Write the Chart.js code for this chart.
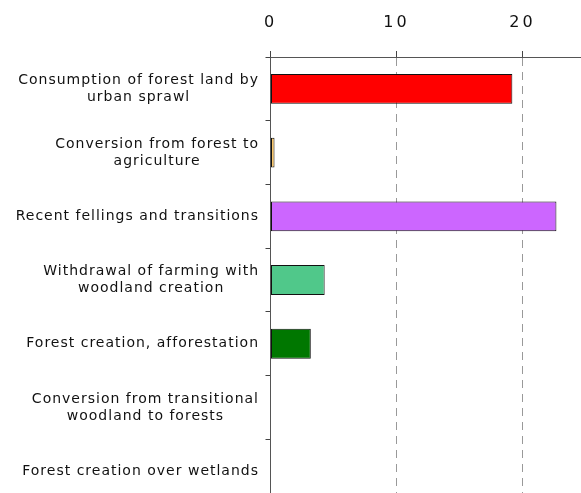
<!DOCTYPE html>
<html>
<head>
<meta charset="utf-8">
<script src="https://cdn.jsdelivr.net/npm/chart.js@4"></script>
<style>
  html, body { margin: 0; padding: 0; background: #fff; overflow: hidden; }
  .wrap { width: 581px; height: 527px; position: relative; }
</style>
</head>
<body>
<div class="wrap"><canvas id="chart"></canvas></div>
<script>
const categories = [
  ['Consumption of forest land by', 'urban sprawl'],
  ['Conversion from forest to', 'agriculture'],
  ['Recent fellings and transitions'],
  ['Withdrawal of farming with', 'woodland creation'],
  ['Forest creation, afforestation'],
  ['Conversion from transitional', 'woodland to forests'],
  ['Forest creation over wetlands']
]
const values = [19.2, 0.32, 22.7, 4.3, 3.2, 0, 0]
const barColors = ['#ff0000', '#f9c66a', '#cc66ff', '#50c88a', '#007700', '#999999', '#999999']
const xTicks = [0, 10, 20]

// category labels: right-aligned blocks, lines centred inside the block
const labelFont = '14px "DejaVu Sans"'
const lineH = 17
const blockLabels = {
  id: 'blockLabels',
  afterDraw(chart) {
    const c = chart.ctx
    const scale = chart.scales.y
    c.save()
    c.font = labelFont
    c.letterSpacing = '1px'
    c.fillStyle = '#111'
    c.textAlign = 'center'
    c.textBaseline = 'middle'
    const right = scale.right - 12
    categories.forEach((lines, i) => {
      const y = scale.getPixelForTick(i)
      const w = Math.max(...lines.map(l => c.measureText(l).width))
      const cx = right - w / 2
      const top = y - (lines.length - 1) * lineH / 2
      lines.forEach((l, k) => c.fillText(l, cx + 0.5, top + k * lineH))
    })
    c.restore()
  }
}

const ctx = document.getElementById('chart').getContext('2d')
const mychart = new Chart(ctx, {
  type: 'bar',
  data: {
    labels: categories,
    datasets: [{
      data: values,
      backgroundColor: barColors,
      borderColor: '#111',
      borderWidth: 1,
      borderSkipped: false,
      barPercentage: 0.47,
      categoryPercentage: 1
    }]
  },
  options: {
    indexAxis: 'y',
    responsive: true,
    maintainAspectRatio: false,
    animation: false,
    layout: { padding: 0 },
    plugins: {
      legend: { display: false },
      tooltip: { enabled: false }
    },
    scales: {
      x: {
        position: 'top',
        min: 0,
        max: 24.65,
        afterBuildTicks: scale => {
          scale.ticks = xTicks.map(v => ({ value: v }))
        },
        afterFit: scale => {
          scale.height = 57
          const orig = scale.drawLabels
          scale.drawLabels = function (area) {
            this.ctx.letterSpacing = '3px'
            orig.call(this, area)
            this.ctx.letterSpacing = '0px'
          }
        },
        grid: {
          color: ctx => ctx.tick && ctx.tick.value === 0 ? 'rgba(0,0,0,0)' : '#999',
          lineWidth: 1,
          tickColor: '#444',
          tickLength: 6
        },
        border: { display: true, color: '#555', dash: [8, 6] },
        ticks: {
          color: '#111',
          padding: 19,
          font: { family: 'DejaVu Sans', size: 16 }
        }
      },
      y: {
        afterFit: scale => { scale.width = 270.5 },
        grid: {
          drawOnChartArea: false,
          tickLength: 5,
          tickColor: '#444'
        },
        border: { display: true, color: '#555' },
        ticks: {
          color: 'rgba(0,0,0,0)',
          padding: 7,
          font: { family: 'DejaVu Sans', size: 14, lineHeight: 1.2 }
        }
      }
    }
  },
  plugins: [blockLabels]
})
</script>
</body>
</html>
